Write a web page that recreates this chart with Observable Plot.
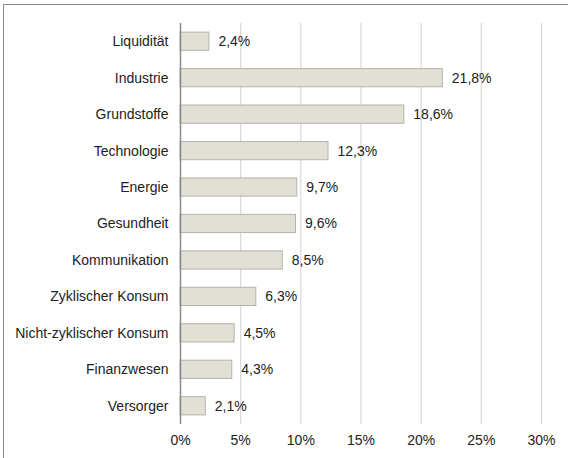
<!DOCTYPE html>
<html><head><meta charset="utf-8">
<script src="https://cdn.jsdelivr.net/npm/d3@7"></script>
<script src="https://cdn.jsdelivr.net/npm/@observablehq/plot@0.6"></script>
<style>
html,body{margin:0;padding:0;background:#fff;}
#wrap{position:relative;width:568px;height:458px;overflow:hidden;}
#frame{position:absolute;left:3px;top:4px;width:700px;height:700px;border-left:1.5px solid #8a8a8a;border-top:1.5px solid #8a8a8a;box-sizing:border-box;}
#chart{position:absolute;left:0;top:0;}
#chart svg text{font-family:'Liberation Sans', Arial, sans-serif;}
</style></head>
<body><div id="wrap"><div id="frame"></div><div id="chart"></div></div>
<script>
const categories = ["Liquidität","Industrie","Grundstoffe","Technologie","Energie","Gesundheit","Kommunikation","Zyklischer Konsum","Nicht-zyklischer Konsum","Finanzwesen","Versorger"];
const values = [2.4,21.8,18.6,12.3,9.7,9.6,8.5,6.3,4.5,4.3,2.1];
const xTicks = [0,5,10,15,20,25,30];
const data = categories.map((c,i)=>({cat:c, v:values[i]}));
const fmt = v => v.toFixed(1).replace(".", ",") + "%";
const chart = Plot.plot({
  width:568, height:458,
  marginLeft:180, marginRight:27, marginTop:23, marginBottom:34,
  style:{fontFamily:"'Liberation Sans', Arial, sans-serif", fontSize:"14px", color:"#222", background:"transparent"},
  x:{domain:[0,30], ticks:xTicks, tickFormat:d=>d+"%", tickSize:0, tickPadding:11, label:null},
  y:{domain:categories, paddingInner:0.5, paddingOuter:0.25, round:false, tickSize:0, tickPadding:12, label:null},
  marks:[
    Plot.gridX(xTicks.slice(1), {stroke:"#d8d8d8", strokeOpacity:1, strokeWidth:1.2}),
    Plot.barX(data, {x:"v", y:"cat", fill:"#e2dfd4", stroke:"#b5b3aa", strokeWidth:1}),
    Plot.ruleX([0], {stroke:"#8a8a8a", strokeWidth:1.5}),
    Plot.text(data, {x:"v", y:"cat", text:d=>fmt(d.v), textAnchor:"start", dx:9, fill:"#222", fontSize:14})
  ]
});
document.getElementById("chart").appendChild(chart);
</script></body></html>
